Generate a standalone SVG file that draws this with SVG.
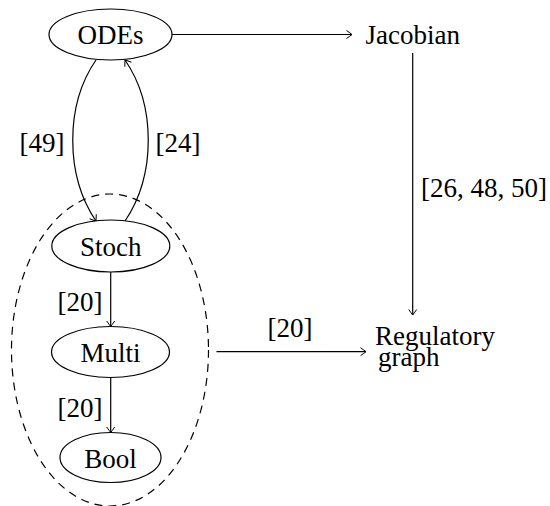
<svg xmlns="http://www.w3.org/2000/svg" width="550" height="506" viewBox="0 0 550 506">
<defs>
<marker id="arr" markerUnits="userSpaceOnUse" markerWidth="12" markerHeight="12" viewBox="-7 -6 9 12" refX="0" refY="0" orient="auto">
<path d="M -5.5 -4 Q -1.5 -1.2 0 0 Q -1.5 1.2 -5.5 4" fill="none" stroke="#000" stroke-width="1"/>
</marker>
<style>
.n{fill:#fff;stroke:#000;stroke-width:1.2}
.c{fill:none;stroke:#000;stroke-width:1.2;marker-end:url(#arr)}
.t{font-family:'Liberation Serif','Times New Roman',serif;font-size:27px;fill:#000}
</style>
</defs>
<rect width="550" height="506" fill="#fff"/>
<g id="group">
<ellipse cx="110" cy="350" rx="98.5" ry="156" fill="none" stroke="#000" stroke-width="1.2" stroke-dasharray="8,6"/>
</g>
<g id="connectors">
<path class="c" d="M172 34.5 H352"/>
<path class="c" d="M96 60 C 65 105 65 175 96 221"/>
<path class="c" d="M125 221 C 156 175 156 105 125 60"/>
<path class="c" d="M412.7 53 V315"/>
<path class="c" d="M216.5 351.7 H366"/>
<path class="c" d="M110.7 272 V326.5"/>
<path class="c" d="M110.7 378 V432.5"/>
<text class="t" x="42" y="152" text-anchor="middle">[49]</text>
<text class="t" x="178" y="152" text-anchor="middle">[24]</text>
<text class="t" x="421" y="197">[26, 48, 50]</text>
<text class="t" x="290" y="337" text-anchor="middle">[20]</text>
<text class="t" x="80" y="311" text-anchor="middle">[20]</text>
<text class="t" x="80" y="417" text-anchor="middle">[20]</text>
</g>
<g id="odes">
<ellipse class="n" cx="110.5" cy="34.5" rx="61.5" ry="25.5"/>
<text class="t" x="110.5" y="44.3" text-anchor="middle">ODEs</text>
</g>
<g id="jacobian">
<text class="t" x="412.7" y="44.3" text-anchor="middle">Jacobian</text>
</g>
<g id="regulatory">
<text class="t" x="375" y="344.5">Regulatory<tspan x="378" y="366">graph</tspan></text>
</g>
<g id="stoch">
<ellipse class="n" cx="110.8" cy="246" rx="59" ry="26"/>
<text class="t" x="110.8" y="255.5" text-anchor="middle">Stoch</text>
</g>
<g id="multi">
<ellipse class="n" cx="110.5" cy="352" rx="59" ry="25.5"/>
<text class="t" x="110.5" y="361.7" text-anchor="middle">Multi</text>
</g>
<g id="bool">
<ellipse class="n" cx="110.5" cy="457.5" rx="50.5" ry="25"/>
<text class="t" x="110.5" y="468" text-anchor="middle">Bool</text>
</g>
</svg>
